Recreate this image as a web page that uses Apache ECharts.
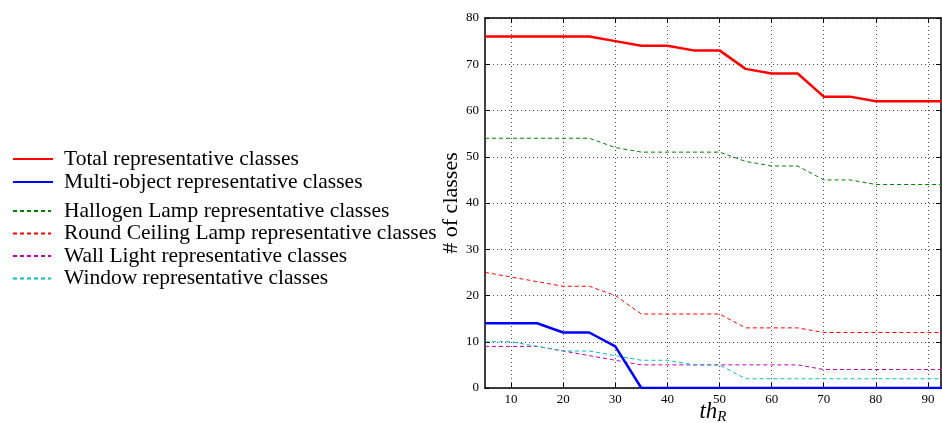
<!DOCTYPE html>
<html><head><meta charset="utf-8">
<script src="https://cdn.jsdelivr.net/npm/echarts@6/dist/echarts.min.js"></script>
<style>html,body{margin:0;padding:0;background:#fff}#c{width:942px;height:423px}</style>
</head><body><div id="c"></div>
<script>
const thR = [5,10,15,20,25,30,35,40,45,50,55,60,65,70,75,80,85,90,95];
const total      = [76,76,76,76,76,75,74,74,73,73,69,68,68,63,63,62,62,62,62];
const multi      = [14,14,14,12,12,9,0,0,0,0,0,0,0,0,0,0,0,0,0];
const hallogen   = [54,54,54,54,54,52,51,51,51,51,49,48,48,45,45,44,44,44,44];
const roundCeil  = [25,24,23,22,22,20,16,16,16,16,13,13,13,12,12,12,12,12,12];
const wallLight  = [9,9,9,8,7,6,5,5,5,5,5,5,5,4,4,4,4,4,4];
const windowCls  = [10,10,9,8,8,7,6,6,5,5,2,2,2,2,2,2,2,2,2];
const xTicks = [10,20,30,40,50,60,70,80,90];
const names = ['Total representative classes','Multi-object representative classes','Hallogen Lamp representative classes','Round Ceiling Lamp representative classes','Wall Light representative classes','Window representative classes'];

const F = 'Liberation Serif, DejaVu Serif, serif';
const pair = a => thR.map((x,i)=>[x,a[i]]);
function s(name, data, color, width, type){
  return {name, type:'line', data:pair(data), showSymbol:false, symbol:'none', animation:false,
    lineStyle:{color, width, type}, itemStyle:{color}, z: width>2?3:2};
}
const chart = echarts.init(document.getElementById('c'));
const grid = {left:485, right:1, top:18, bottom:35, outerBoundsMode:'none', containLabel:false};
const gridLine = {show:true, lineStyle:{color:'#444', width:1, type:[1,3]}};
const legendText1 = {fontFamily:F, fontSize:21.5, color:'#000', padding:[0,0,0,6]};
const legendText2 = {fontFamily:F, fontSize:21.5, color:'#000', padding:[0,0,0,8]};
chart.setOption({
  animation:false,
  grid,
  legend:[
    {data:names.slice(0,2), left:12, top:148, padding:0, orient:'vertical', itemWidth:40, itemHeight:14, itemGap:1,
     itemStyle:{opacity:0}, textStyle:legendText1},
    {data:names.slice(2), left:12, top:200, padding:0, orient:'vertical', itemWidth:38, itemHeight:14, itemGap:0.5,
     itemStyle:{opacity:0}, textStyle:legendText2}
  ],
  xAxis:[{
    type:'value', min:5, max:92.5, splitNumber:9,
    name:'{i|th}{s|R}', nameLocation:'middle', nameGap:10, nameMoveOverlap:false,
    nameTextStyle:{rich:{i:{fontFamily:F, fontStyle:'italic', fontSize:23, color:'#000'}, s:{fontFamily:F, fontStyle:'italic', fontSize:15, color:'#000', padding:[12,0,0,0]}}, verticalAlign:'top'},
    axisLine:{onZero:false, lineStyle:{color:'#000', width:1.5}},
    axisTick:{inside:true, length:5, customValues:xTicks, lineStyle:{color:'#000'}},
    axisLabel:{customValues:xTicks, fontFamily:F, fontSize:13, color:'#000', margin:5},
    splitLine:gridLine
  },{
    type:'value', position:'top', min:5, max:92.5, splitNumber:9,
    axisLine:{onZero:false, lineStyle:{color:'#000', width:1.5}},
    axisTick:{inside:true, length:5, customValues:xTicks, lineStyle:{color:'#000'}},
    axisLabel:{show:false}, splitLine:{show:false}
  }],
  yAxis:[{
    type:'value', min:0, max:80, interval:10,
    name:'# of classes', nameLocation:'middle', nameGap:23, nameMoveOverlap:false,
    nameTextStyle:{fontFamily:F, fontSize:22, color:'#000'},
    axisLine:{show:true, onZero:false, lineStyle:{color:'#000', width:1.5}},
    axisTick:{inside:true, length:5, lineStyle:{color:'#000'}},
    axisLabel:{fontFamily:F, fontSize:13, color:'#000', margin:6},
    splitLine:gridLine
  },{
    type:'value', position:'right', min:0, max:80, interval:10,
    axisLine:{show:true, onZero:false, lineStyle:{color:'#000', width:1.5}},
    axisTick:{show:true, inside:true, length:5, lineStyle:{color:'#000'}},
    axisLabel:{show:false}, splitLine:{show:false}
  }],
  series:[
    s(names[0], total, '#ff0000', 2.5, 'solid'),
    s(names[1], multi, '#0000ff', 2.5, 'solid'),
    s(names[2], hallogen, '#008000', 1, [4,3]),
    s(names[3], roundCeil, '#ff0000', 1, [4,3]),
    s(names[4], wallLight, '#bf00bf', 1, [4,3]),
    s(names[5], windowCls, '#00bfbf', 1, [4,3])
  ]
});
</script></body></html>
